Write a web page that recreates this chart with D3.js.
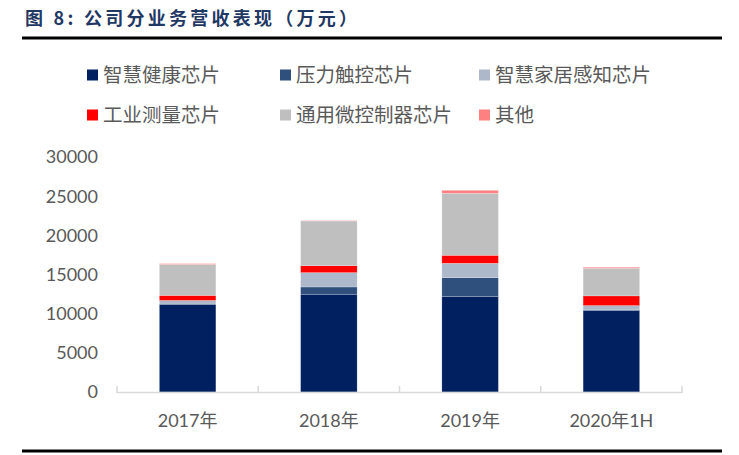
<!DOCTYPE html>
<html>
<head>
<meta charset="utf-8">
<script src="https://cdn.jsdelivr.net/npm/d3@7"></script>
<style>
  body { margin: 0; background: #fff; }
  svg { display: block; }
</style>
</head>
<body>
<svg id="chart" width="739" height="455"></svg>
<script>
// categories and series (万元)
var years = ["2017年", "2018年", "2019年", "2020年1H"];
var seriesNames = ["智慧健康芯片", "压力触控芯片", "智慧家居感知芯片", "工业测量芯片", "通用微控制器芯片", "其他"];
var health   = [11200, 12480, 12170, 10430];
var touch    = [30, 930, 2430, 50];
var home     = [460, 1830, 1830, 550];
var industry = [640, 890, 1020, 1240];
var mcu      = [3960, 5700, 7920, 3530];
var other    = [100, 50, 380, 130];
var yTicks = [0, 5000, 10000, 15000, 20000, 25000, 30000];

var colors = ["#002060", "#2f4f7d", "#adb9ca", "#ff0000", "#bfbfbf", "#ff8080"];

var svg = d3.select("#chart");

// title + rules
svg.append("text")
    .attr("x", 25)
    .attr("y", 25)
    .attr("font-family", "Noto Sans CJK SC")
    .attr("font-weight", "bold")
    .attr("font-size", "18px")
    .attr("fill", "#1f3864")
    .attr("textLength", 332)
    .attr("lengthAdjust", "spacing")
    .text("图 8: 公司分业务营收表现（万元）");

svg.append("line")
    .attr("x1", 22).attr("x2", 722)
    .attr("y1", 38).attr("y2", 38)
    .attr("stroke", "#000").attr("stroke-width", 3);

svg.append("line")
    .attr("x1", 22).attr("x2", 722)
    .attr("y1", 451).attr("y2", 451)
    .attr("stroke", "#000").attr("stroke-width", 3);

// build table for stacking
var table = years.map(function(y, i) {
  return {
    year: y,
    "智慧健康芯片": health[i],
    "压力触控芯片": touch[i],
    "智慧家居感知芯片": home[i],
    "工业测量芯片": industry[i],
    "通用微控制器芯片": mcu[i],
    "其他": other[i]
  };
});

var stacked = d3.stack().keys(seriesNames)(table);

var x = d3.scaleBand()
    .domain(years)
    .range([117, 682])
    .paddingInner(0.6)
    .paddingOuter(0.3);

var y = d3.scaleLinear()
    .domain([0, 30000])
    .range([392, 157]);

var color = d3.scaleOrdinal().domain(seriesNames).range(colors);

// bars
svg.append("g")
  .selectAll("g")
  .data(stacked)
  .enter().append("g")
    .attr("fill", function(d) { return color(d.key); })
  .selectAll("rect")
  .data(function(d) { return d; })
  .enter().append("rect")
    .attr("x", function(d) { return x(d.data.year); })
    .attr("width", x.bandwidth())
    .attr("y", function(d) { return y(d[1]); })
    .attr("height", function(d) { return y(d[0]) - y(d[1]); })
    .attr("stroke", "#ffffff")
    .attr("stroke-opacity", 0.35)
    .attr("stroke-width", 0.6);

// y axis labels
svg.append("g")
  .selectAll("text")
  .data(yTicks)
  .enter().append("text")
    .attr("x", 98)
    .attr("y", function(d) { return y(d); })
    .attr("dy", "0.36em")
    .attr("text-anchor", "end")
    .attr("font-family", "Lato")
    .attr("font-size", "18px")
    .attr("fill", "#595959")
    .text(function(d) { return d; });

// x axis line + ticks between categories
var axisG = svg.append("g");
axisG.append("line")
    .attr("x1", 117).attr("x2", 682)
    .attr("y1", 392.5).attr("y2", 392.5)
    .attr("stroke", "#d9d9d9").attr("stroke-width", 1.5);

var tickXs = d3.range(years.length + 1).map(function(i) { return 117 + i * (565 / years.length); });
axisG.selectAll(".tk")
  .data(tickXs)
  .enter().append("line")
    .attr("class", "tk")
    .attr("x1", function(d) { return d; }).attr("x2", function(d) { return d; })
    .attr("y1", 386).attr("y2", 393)
    .attr("stroke", "#d9d9d9").attr("stroke-width", 1.5);

axisG.selectAll(".xl")
  .data(years)
  .enter().append("text")
    .attr("class", "xl")
    .attr("x", function(d) { return x(d) + x.bandwidth() / 2; })
    .attr("y", 427)
    .attr("text-anchor", "middle")
    .attr("font-family", "Lato, 'Noto Sans CJK SC'")
    .attr("font-size", "18px")
    .attr("fill", "#595959")
    .text(function(d) { return d; });

// legend
var legendPos = [[87, 75], [280, 75], [479, 75], [87, 115], [280, 115], [479, 115]];
var legend = svg.append("g")
  .selectAll("g")
  .data(seriesNames)
  .enter().append("g")
    .attr("transform", function(d, i) { return "translate(" + legendPos[i][0] + "," + legendPos[i][1] + ")"; });

legend.append("rect")
    .attr("x", 0).attr("y", -5.5)
    .attr("width", 11).attr("height", 11)
    .attr("fill", function(d) { return color(d); });

legend.append("text")
    .attr("x", 16)
    .attr("y", 0)
    .attr("dy", "0.36em")
    .attr("font-family", "Noto Sans CJK SC")
    .attr("font-size", "19.5px")
    .attr("fill", "#595959")
    .text(function(d) { return d; });
</script>
</body>
</html>
